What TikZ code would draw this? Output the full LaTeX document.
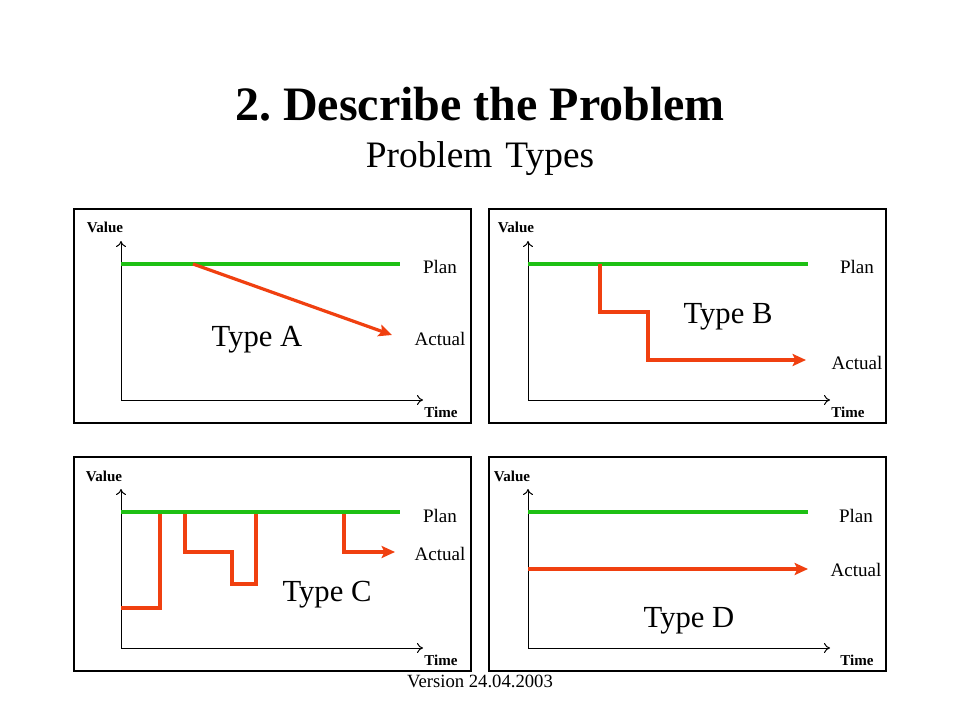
\documentclass[tikz,border=0pt]{standalone}
\usepackage{fontspec}
\setmainfont{Liberation Serif}
\usetikzlibrary{arrows.meta}
\definecolor{plangreen}{RGB}{30,192,20}
\definecolor{actred}{RGB}{240,64,16}
\begin{document}
\frenchspacing
\begin{tikzpicture}[x=0.75pt,y=-0.75pt,
  panel/.style={draw=black,line width=0.8pt},
  axis/.style={line width=0.75pt,-{To[length=4.5pt,width=7.5pt]}},
  planline/.style={plangreen,line width=3pt},
  actline/.style={actred,line width=2.4pt,line join=miter},
  actarrow/.style={actline,-{Stealth[length=10pt,width=9pt,inset=2pt]}},
  small/.style={font=\fontsize{11.3}{13}\selectfont\bfseries,anchor=base,inner sep=0pt},
  lbl/.style={font=\fontsize{14.3}{16}\selectfont,anchor=base,inner sep=0pt},
  typ/.style={font=\fontsize{23}{26}\selectfont,anchor=base,inner sep=0pt}]
\useasboundingbox (0,0) rectangle (960,720);
\fill[white] (0,0) rectangle (960,720);

% titles
\node[font=\fontsize{36}{40}\selectfont\bfseries,anchor=base,inner sep=0pt] (title) at (480,121) {2. Describe the Problem};
\node[font=\fontsize{28}{32}\selectfont,anchor=base,inner sep=0pt] (subtitle) at (480,168) {Problem\hspace{0.35em}Types};
\node[font=\fontsize{14}{16}\selectfont,anchor=base,inner sep=0pt] (version) at (480,687) {Version 24.04.2003};

% ---------- Panel A ----------
\draw[panel] (74,209) rectangle (471,423);
\coordinate (AO) at (121,400);
\coordinate (AY) at (121,241);
\coordinate (AX) at (423,400);
\draw[axis] (AO) -- (AY);
\draw[axis] (AO) -- (AX);
\coordinate (APs) at (121,264);
\coordinate (APe) at (400,264);
\draw[planline] (APs) -- (APe);
\coordinate (AAs) at (193,264);
\coordinate (AAe) at (392,335);
\draw[actarrow] (AAs) -- (AAe);
\node[small] (vA) at (105,233) {Value};
\node[small] (tA) at (441,417) {Time};
\node[lbl] (pA) at (440,273.5) {Plan};
\node[lbl] (aA) at (440,345) {Actual};
\node[typ] (tyA) at (257,346.5) {Type A};

% ---------- Panel B ----------
\draw[panel] (489,209) rectangle (886,423);
\coordinate (BO) at (528,400);
\coordinate (BY) at (528,241);
\coordinate (BX) at (830,400);
\draw[axis] (BO) -- (BY);
\draw[axis] (BO) -- (BX);
\coordinate (BPs) at (528,264);
\coordinate (BPe) at (808,264);
\draw[planline] (BPs) -- (BPe);
\coordinate (BA1) at (600,264);
\coordinate (BA2) at (600,312);
\coordinate (BA3) at (648,312);
\coordinate (BA4) at (648,360);
\coordinate (BA5) at (806,360);
\draw[actarrow] (BA1) -- (BA2) -- (BA3) -- (BA4) -- (BA5);
\node[small] (vB) at (516,233) {Value};
\node[small] (tB) at (848,417) {Time};
\node[lbl] (pB) at (857,273.5) {Plan};
\node[lbl] (aB) at (857,369) {Actual};
\node[typ] (tyB) at (728,323) {Type B};

% ---------- Panel C ----------
\draw[panel] (74,457) rectangle (471,671);
\coordinate (CO) at (121,648);
\coordinate (CY) at (121,489);
\coordinate (CX) at (423,648);
\draw[axis] (CO) -- (CY);
\draw[axis] (CO) -- (CX);
\coordinate (CPs) at (121,512);
\coordinate (CPe) at (400,512);
\coordinate (C1a) at (121,608);
\coordinate (C1b) at (160,608);
\coordinate (C1c) at (160,512);
\draw[actline] (C1a) -- (C1b) -- (C1c);
\coordinate (C2a) at (185,512);
\coordinate (C2b) at (185,552);
\coordinate (C2c) at (232,552);
\coordinate (C2d) at (232,584);
\coordinate (C2e) at (256,584);
\coordinate (C2f) at (256,512);
\draw[actline] (C2a) -- (C2b) -- (C2c) -- (C2d) -- (C2e) -- (C2f);
\coordinate (C3a) at (344,512);
\coordinate (C3b) at (344,552);
\coordinate (C3c) at (395,552);
\draw[actarrow] (C3a) -- (C3b) -- (C3c);
\draw[planline] (CPs) -- (CPe);
\node[small] (vC) at (104,481) {Value};
\node[small] (tC) at (441,665) {Time};
\node[lbl] (pC) at (440,522) {Plan};
\node[lbl] (aC) at (440,560) {Actual};
\node[typ] (tyC) at (327,601) {Type C};

% ---------- Panel D ----------
\draw[panel] (489,457) rectangle (886,671);
\coordinate (DO) at (528,648);
\coordinate (DY) at (528,489);
\coordinate (DX) at (830,648);
\draw[axis] (DO) -- (DY);
\draw[axis] (DO) -- (DX);
\coordinate (DPs) at (528,512);
\coordinate (DPe) at (808,512);
\draw[planline] (DPs) -- (DPe);
\coordinate (DAs) at (528,569);
\coordinate (DAe) at (808,569);
\draw[actarrow] (DAs) -- (DAe);
\node[small] (vD) at (512,481) {Value};
\node[small] (tD) at (857,665) {Time};
\node[lbl] (pD) at (856,522) {Plan};
\node[lbl] (aD) at (856,576) {Actual};
\node[typ] (tyD) at (689,627) {Type D};
\end{tikzpicture}
\end{document}
